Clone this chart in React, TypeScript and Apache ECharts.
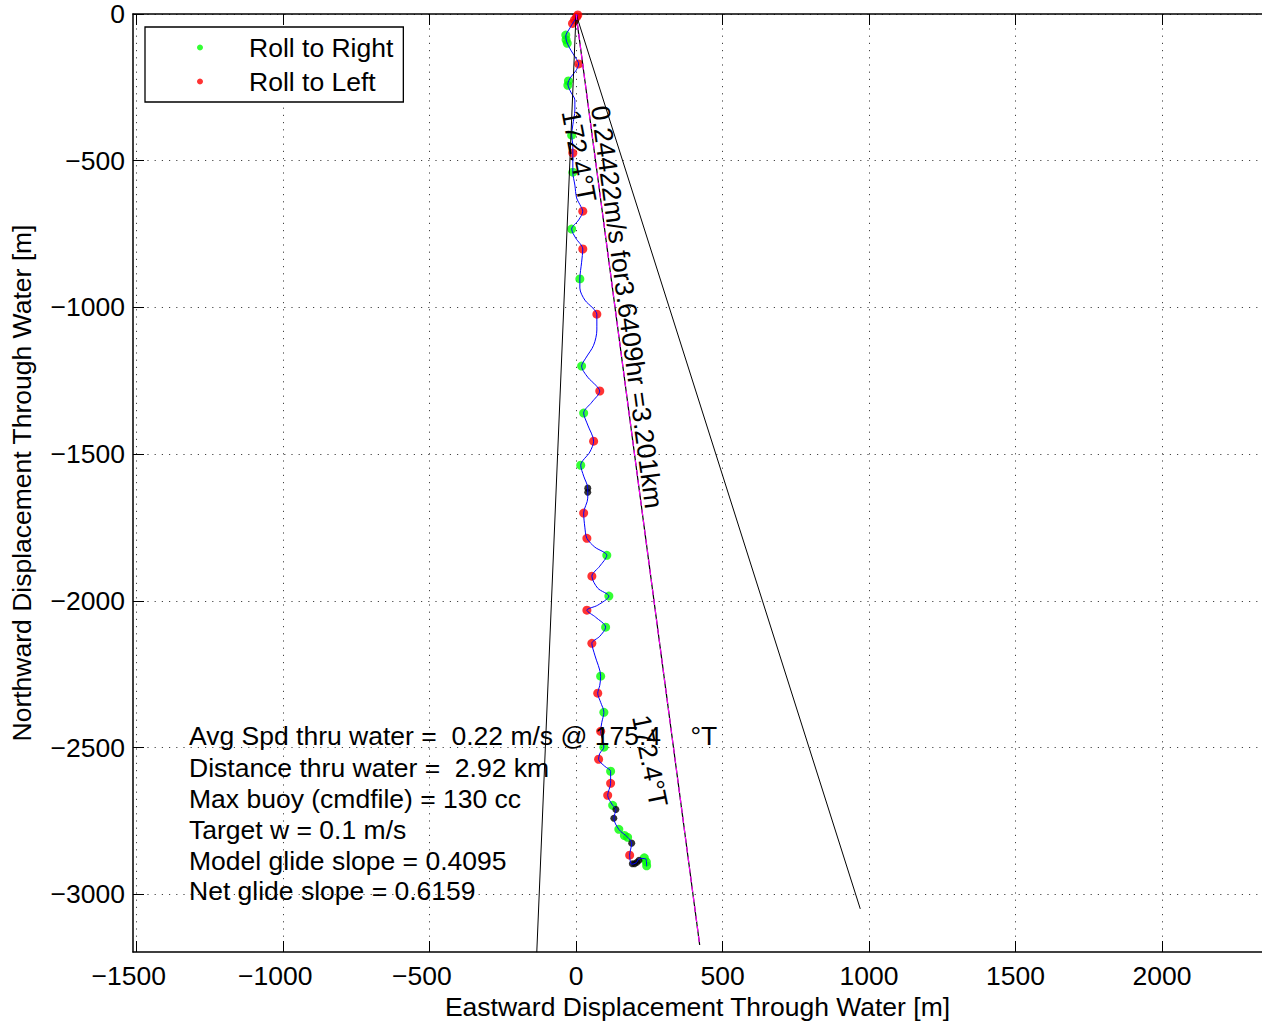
import React, { useEffect, useRef } from "react";
import * as echarts from "echarts";

const xTicks = [-1500, -1000, -500, 0, 500, 1000, 1500, 2000];
const yTicks = [-3000, -2500, -2000, -1500, -1000, -500, 0];

const track: number[][] = [
  [6, -3], [-4, -20], [-21, -48], [-35, -75], [-32, -95], [-18, -123], [-1, -150], [9, -170],
  [-1, -194], [-18, -215], [-28, -239], [-18, -266], [-4, -293], [-4, -327], [-11, -378],
  [-15, -413], [-11, -447], [-11, -474], [-11, -508], [-11, -539], [-4, -583], [2, -627],
  [16, -655], [23, -672], [9, -702], [-15, -733], [-1, -764], [23, -801], [19, -846],
  [13, -903], [13, -934], [30, -975], [57, -1002], [71, -1023], [71, -1077], [60, -1129],
  [33, -1173], [19, -1200], [40, -1238], [67, -1265], [81, -1285], [54, -1323], [26, -1360],
  [40, -1401], [60, -1456], [47, -1493], [16, -1538], [26, -1575], [40, -1616], [40, -1650],
  [26, -1701], [30, -1749], [37, -1787], [64, -1817], [105, -1845], [81, -1882], [54, -1916],
  [74, -1957], [112, -1984], [74, -2015], [37, -2032], [67, -2056], [101, -2090], [81, -2121],
  [54, -2145], [64, -2185], [84, -2257], [81, -2288], [74, -2315], [84, -2346], [95, -2380],
  [88, -2414], [84, -2445], [91, -2475], [95, -2499], [81, -2520], [77, -2540], [98, -2564],
  [118, -2581], [118, -2622], [108, -2663], [125, -2697], [136, -2711], [129, -2741],
  [146, -2779], [176, -2806], [190, -2826], [183, -2867], [190, -2898], [205, -2893],
  [217, -2878], [238, -2880], [241, -2905],
];

const rollRight: number[][] = [
  [-35, -72], [-34, -88], [-30, -100], [-26, -228], [-28, -243], [-15, -413], [-11, -539],
  [-15, -733], [13, -903], [19, -1200], [26, -1360], [16, -1538], [105, -1845], [112, -1984],
  [101, -2090], [84, -2257], [95, -2380], [95, -2499], [118, -2581], [125, -2697],
  [146, -2779], [165, -2800], [176, -2806], [233, -2876], [240, -2890], [241, -2903],
];

const rollLeft: number[][] = [
  [6, -3], [2, -10], [-5, -20], [-12, -32], [9, -170], [-11, -474], [23, -672], [23, -801],
  [71, -1023], [81, -1285], [60, -1456], [26, -1701], [37, -1787], [54, -1916], [37, -2032],
  [54, -2145], [74, -2315], [84, -2445], [77, -2540], [118, -2622], [108, -2663], [183, -2867],
];

const blackMarks: number[][] = [
  [40, -1616], [40, -1630], [136, -2711], [129, -2741], [190, -2826], [192, -2896],
  [200, -2896], [208, -2891], [215, -2884],
];

const headingLeft: number[][] = [[0, 0], [-134, -3198]];
const headingMean: number[][] = [[0, 0], [422, -3173]];
const headingRight: number[][] = [[0, 0], [970, -3050]];

const summaryLines = [
  "Avg Spd thru water =  0.22 m/s @ 175.4    °T",
  "Distance thru water =  2.92 km",
  "Max buoy (cmdfile) = 130 cc",
  "Target w = 0.1 m/s",
  "Model glide slope = 0.4095",
  "Net glide slope = 0.6159",
];
const speedLabel = "0.24422m/s for3.6409hr =3.201km";
const headingLabel = "172.4°T";

const FONT = "'Liberation Sans', Arial, Helvetica, sans-serif";
const FS = 26.5;

const minusFmt = (v: number) => String(v).replace("-", "\u2212");
// MATLAB centres the digits under the tick and lets the minus sign hang to the left
const xLabelFmt = (v: number) => (v < 0 ? minusFmt(v) + "{sp| }" : minusFmt(v));

export default function App() {
  const ref = useRef<HTMLDivElement>(null);
  useEffect(() => {
    if (!ref.current) return;
    const chart = echarts.init(ref.current, undefined, { renderer: "svg" });
    const textStyle = (text: string, x: number, y: number, rotation = 0) => ({
      type: "text",
      x,
      y,
      rotation,
      z: 100,
      style: {
        text,
        fill: "#000",
        font: `${FS}px ${FONT}`,
        fontSize: FS,
        fontFamily: FONT,
        align: "center",
        verticalAlign: "middle",
        textAlign: "center",
        textVerticalAlign: "middle",
      },
    });
    const summary = summaryLines.map((t, i) => ({
      type: "text",
      x: 189,
      y: [736, 768, 799, 830, 861, 891][i],
      z: 100,
      style: {
        text: t,
        fill: "#000",
        font: `${FS}px ${FONT}`,
        fontSize: FS,
        fontFamily: FONT,
        align: "left",
        verticalAlign: "middle",
        textAlign: "left",
        textVerticalAlign: "middle",
      },
    }));
    const option: any = {
      animation: false,
      backgroundColor: "#fff",
      textStyle: { fontFamily: FONT },
      grid: { left: 133, top: 14, bottom: 74, right: 0, containLabel: false },
      legend: {
        data: ["Roll to Right", "Roll to Left"],
        orient: "vertical",
        left: 145,
        top: 27,
        icon: "circle",
        itemWidth: 6,
        itemHeight: 6,
        itemGap: 7,
        padding: [7, 10, 7, 52],
        borderColor: "#000",
        borderWidth: 1.3,
        backgroundColor: "#fff",
        selectedMode: false,
        textStyle: {
          fontSize: FS,
          fontFamily: FONT,
          color: "#000",
          padding: [0, 0, 0, 41],
        },
        z: 50,
      },
      xAxis: [
        {
          type: "value",
          min: -1512,
          max: 2341,
          position: "bottom",
          name: "Eastward Displacement Through Water [m]",
          nameLocation: "middle",
          nameGap: 41,
          nameTextStyle: { fontSize: FS, fontFamily: FONT, color: "#000" },
          axisLine: { show: true, onZero: false, lineStyle: { color: "#000", width: 1.5 } },
          axisTick: { show: true, inside: true, length: 11, customValues: xTicks, lineStyle: { color: "#000", width: 1 } },
          axisLabel: {
            show: true,
            customValues: xTicks,
            margin: 10,
            fontSize: FS,
            fontFamily: FONT,
            color: "#000",
            formatter: xLabelFmt,
            rich: { sp: { width: 15.5, fontSize: FS, fontFamily: FONT } },
          },
          splitLine: { show: true, lineStyle: { color: "#444", width: 1, type: [1.2, 6] } },
        },
        {
          type: "value",
          min: -1512,
          max: 2341,
          position: "top",
          axisLine: { show: true, onZero: false, lineStyle: { color: "#000", width: 1.5 } },
          axisTick: { show: true, inside: true, length: 11, customValues: xTicks, lineStyle: { color: "#000", width: 1 } },
          axisLabel: { show: false },
          splitLine: { show: false },
        },
      ],
      yAxis: [
        {
          type: "value",
          min: -3197,
          max: 0,
          position: "left",
          name: "Northward Displacement Through Water [m]",
          nameLocation: "middle",
          nameGap: 98,
          nameRotate: 90,
          nameTextStyle: { fontSize: FS, fontFamily: FONT, color: "#000" },
          axisLine: { show: true, onZero: false, lineStyle: { color: "#000", width: 1.5 } },
          axisTick: { show: true, inside: true, length: 11, customValues: yTicks, lineStyle: { color: "#000", width: 1 } },
          axisLabel: { show: true, customValues: yTicks, margin: 8, fontSize: FS, fontFamily: FONT, color: "#000", formatter: minusFmt },
          splitLine: { show: true, lineStyle: { color: "#444", width: 1, type: [1.2, 6] } },
        },
      ],
      series: [
        {
          name: "Roll to Right",
          type: "scatter",
          data: rollRight,
          symbol: "circle",
          symbolSize: 9,
          itemStyle: { color: "#00ff00" },
          z: 2,
        },
        {
          name: "Roll to Left",
          type: "scatter",
          data: rollLeft,
          symbol: "circle",
          symbolSize: 9,
          itemStyle: { color: "#ff0000" },
          z: 2,
        },
        {
          name: "turns",
          type: "scatter",
          data: blackMarks,
          symbol: "circle",
          symbolSize: 7,
          itemStyle: { color: "#000" },
          z: 2,
        },
        {
          name: "track",
          type: "line",
          data: track,
          showSymbol: false,
          smooth: 0.3,
          lineStyle: { color: "#0000ff", width: 1 },
          z: 3,
        },
        {
          name: "heading -10",
          type: "line",
          data: headingLeft,
          showSymbol: false,
          lineStyle: { color: "#000", width: 1 },
          z: 4,
        },
        {
          name: "heading +10",
          type: "line",
          data: headingRight,
          showSymbol: false,
          lineStyle: { color: "#000", width: 1 },
          z: 4,
        },
        {
          name: "heading mean",
          type: "line",
          data: headingMean,
          showSymbol: false,
          lineStyle: { color: "#000", width: 1.2 },
          z: 4,
        },
        {
          name: "heading mean dashed",
          type: "line",
          data: headingMean,
          showSymbol: false,
          lineStyle: { color: "#ff00ff", width: 1.2, type: [6, 4] },
          z: 5,
        },
      ],
      graphic: [
        ...summary,
        textStyle(speedLabel, 627, 307, (-82.3 * Math.PI) / 180),
        textStyle(headingLabel, 579, 156, (-79.3 * Math.PI) / 180),
        textStyle(headingLabel, 650, 761, (-78.7 * Math.PI) / 180),
      ],
    };
    chart.setOption(option);
    return () => chart.dispose();
  }, []);
  return (
    <div
      ref={ref}
      style={{ position: "absolute", left: 0, top: 0, width: 1262, height: 1026, background: "#fff" }}
    />
  );
}
